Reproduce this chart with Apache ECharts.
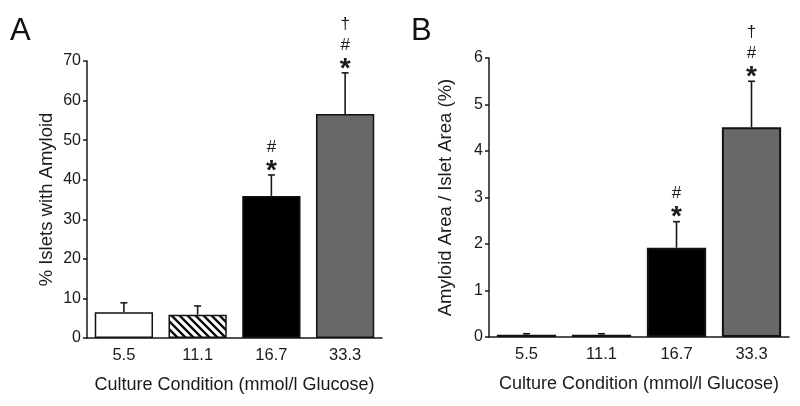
<!DOCTYPE html>
<html>
<head>
<meta charset="utf-8">
<script src="https://cdn.jsdelivr.net/npm/echarts@6/dist/echarts.min.js"></script>
<style>html,body{margin:0;padding:0;background:#fff}#c{width:800px;height:406px}</style>
</head>
<body>
<div id="c"></div>
<script>
const categories = ['5.5', '11.1', '16.7', '33.3'];
const isletsPct = [6.5, 5.9, 35.9, 56.6];
const isletsSem = [2.4, 2.2, 5.3, 10.4];
const areaPct = [0.05, 0.05, 1.92, 4.51];
const areaSem = [0.02, 0.02, 0.56, 0.99];
const marks = [[], [], ['*', '#'], ['*', '#', '†']];
const yTicksA = {min: 0, max: 70, interval: 10};
const yTicksB = {min: 0, max: 6, interval: 1};

// hatch pattern
const pc = document.createElement('canvas');
pc.width = 8; pc.height = 8;
const px = pc.getContext('2d');
px.fillStyle = '#fff'; px.fillRect(0, 0, 8, 8);
px.strokeStyle = '#111'; px.lineWidth = 2.4;
px.beginPath();
px.moveTo(-1, -1); px.lineTo(9, 9);
px.moveTo(-5, 3); px.lineTo(5, 13);
px.moveTo(3, -5); px.lineTo(13, 5);
px.stroke();

const fills = ['#ffffff', {image: pc, repeat: 'repeat'}, '#000000', '#686868'];
const FONT = '"Liberation Sans", Arial, sans-serif';
const TXT = '#1a1a1a';

function barData(vals) {
  return vals.map((v, i) => ({value: v, itemStyle: {color: fills[i]}}));
}
function errData(vals, sems) {
  return vals.map((v, i) => [i, v, v + sems[i]]);
}
function renderErr(params, api) {
  const i = api.value(0);
  const base = api.coord([i, api.value(1)]);
  const top = api.coord([i, api.value(2)]);
  const x = base[0];
  const children = [
    {type: 'line', shape: {x1: x, y1: base[1], x2: x, y2: top[1]}, style: {stroke: '#1a1a1a', lineWidth: 1.6}},
    {type: 'line', shape: {x1: x - 3.5, y1: top[1], x2: x + 3.5, y2: top[1]}, style: {stroke: '#1a1a1a', lineWidth: 1.6}}
  ];
  const m = marks[i];
  const offs = {'*': 4, '#': 28, '†': 49};
  m.forEach(s => {
    children.push({
      type: 'text',
      style: {
        text: s, x: x, y: top[1] - offs[s],
        align: 'center', verticalAlign: 'middle',
        font: (s === '*' ? 'bold 28px ' : '17px ') + FONT,
        fill: TXT
      }
    });
  });
  return {type: 'group', children};
}

function yAxis(ticks, name, gi, gap) {
  return {
    type: 'value', gridIndex: gi, min: ticks.min, max: ticks.max, interval: ticks.interval,
    name: name, nameLocation: 'middle', nameGap: gap,
    nameTextStyle: {fontFamily: FONT, fontSize: 18.5, color: TXT},
    axisLine: {show: true, lineStyle: {color: '#1a1a1a', width: 1.5}},
    axisTick: {show: true, length: 4, lineStyle: {color: '#1a1a1a', width: 1.5}},
    axisLabel: {fontFamily: FONT, fontSize: 16, color: TXT, margin: 6},
    splitLine: {show: false}
  };
}
function xAxis(gi) {
  return {
    type: 'category', gridIndex: gi, data: categories,
    name: 'Culture Condition (mmol/l Glucose)', nameLocation: 'middle', nameGap: 38,
    nameTextStyle: {fontFamily: FONT, fontSize: 18, color: TXT},
    axisLine: {show: true, lineStyle: {color: '#1a1a1a', width: 1.5}},
    axisTick: {show: false},
    axisLabel: {fontFamily: FONT, fontSize: 16.5, color: TXT, margin: 9}
  };
}

const chart = echarts.init(document.getElementById('c'), null, {renderer: 'canvas'});
chart.setOption({
  animation: false,
  backgroundColor: '#fff',
  graphic: [
    {type: 'text', left: 10, top: 16, style: {text: 'A', font: '31px ' + FONT, fill: '#111'}},
    {type: 'text', left: 411, top: 16, style: {text: 'B', font: '31px ' + FONT, fill: '#111'}}
  ],
  grid: [
    {left: 87, right: 418, top: 61, bottom: 68},
    {left: 489, right: 11, top: 58, bottom: 69}
  ],
  xAxis: [xAxis(0), xAxis(1)],
  yAxis: [yAxis(yTicksA, '% Islets with Amyloid', 0, 31), yAxis(yTicksB, 'Amyloid Area / Islet Area (%)', 1, 34)],
  series: [
    {type: 'bar', xAxisIndex: 0, yAxisIndex: 0, barWidth: '79%', data: barData(isletsPct),
     itemStyle: {borderColor: '#111', borderWidth: 1.5}},
    {type: 'custom', xAxisIndex: 0, yAxisIndex: 0, renderItem: renderErr, data: errData(isletsPct, isletsSem), z: 5},
    {type: 'bar', xAxisIndex: 1, yAxisIndex: 1, barWidth: '79%', data: barData(areaPct),
     itemStyle: {borderColor: '#111', borderWidth: 2}},
    {type: 'custom', xAxisIndex: 1, yAxisIndex: 1, renderItem: renderErr, data: errData(areaPct, areaSem), z: 5}
  ]
});
</script>
</body>
</html>
